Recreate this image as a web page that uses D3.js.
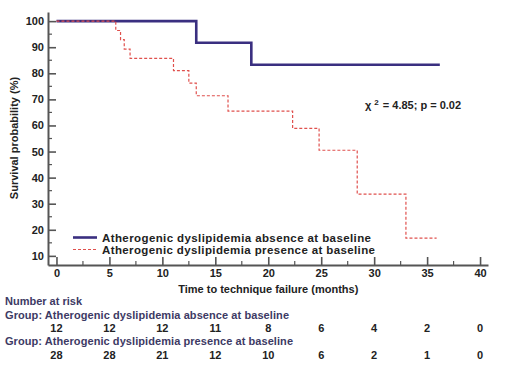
<!DOCTYPE html>
<html>
<head>
<meta charset="utf-8">
<script src="https://cdn.jsdelivr.net/npm/d3@7"></script>
<style>
  body { margin: 0; background: #fff; }
  svg text { font-family: "Liberation Sans", Arial, sans-serif; font-weight: bold; }
</style>
</head>
<body>
<svg id="chart" width="505" height="375"></svg>
<script>
// Kaplan-Meier steps
const absenceTimes = [0, 13.2, 18.4, 36.2];
const absenceSurv  = [100, 91.7, 83.3, 83.3];
const presenceTimes = [0, 5.6, 6.05, 6.4, 6.95, 11.05, 12.5, 13.2, 16.2, 22.3, 24.8, 28.4, 33.0, 35.9];
const presenceSurv  = [100, 96.4, 92.9, 89.3, 85.7, 81.0, 76.2, 71.4, 65.5, 58.9, 50.5, 33.7, 16.8, 16.8];

const xTicks = [0, 5, 10, 15, 20, 25, 30, 35, 40];
const yTicks = [10, 20, 30, 40, 50, 60, 70, 80, 90, 100];
const riskAbsence  = [12, 12, 12, 11, 8, 6, 4, 2, 0];
const riskPresence = [28, 28, 21, 12, 10, 6, 2, 1, 0];

const legendLabels = ["Atherogenic dyslipidemia absence at baseline",
                      "Atherogenic dyslipidemia presence at baseline"];

const blue = "#3a2f80", red = "#e0504d", axisCol = "#555";

const svg = d3.select("#chart");

const x = d3.scaleLinear().domain([-0.8, 40.75]).range([48, 488]);
const y = d3.scaleLinear().domain([6.5, 103.5]).range([265, 12]);

// minor ticks first
svg.append("g").selectAll("line")
  .data(d3.range(2.5, 40, 5))
  .enter().append("line")
    .attr("x1", d => x(d)).attr("x2", d => x(d))
    .attr("y1", 265).attr("y2", 261)
    .attr("stroke", axisCol).attr("stroke-width", 1.2);

svg.append("g").selectAll("line")
  .data(d3.range(15, 100, 10))
  .enter().append("line")
    .attr("y1", d => y(d)).attr("y2", d => y(d))
    .attr("x1", 48).attr("x2", 52)
    .attr("stroke", axisCol).attr("stroke-width", 1.2);

const xAxis = svg.append("g")
  .attr("transform", "translate(0,265)")
  .call(d3.axisBottom(x).tickValues(xTicks).tickSizeInner(-8).tickSizeOuter(0).tickPadding(4));

const yAxis = svg.append("g")
  .attr("transform", "translate(48,0)")
  .call(d3.axisLeft(y).tickValues(yTicks).tickSizeInner(-8).tickSizeOuter(0).tickPadding(4));

[xAxis, yAxis].forEach(g => {
  g.select(".domain").attr("stroke", axisCol).attr("stroke-width", 2);
  g.selectAll(".tick line").attr("stroke", axisCol).attr("stroke-width", 1.6);
  g.selectAll(".tick text").attr("fill", "#222").attr("font-size", 11);
});

// axis titles
svg.append("text")
  .attr("x", x(20)).attr("y", 293)
  .attr("text-anchor", "middle").attr("font-size", 11).attr("fill", "#222")
  .text("Time to technique failure (months)");

svg.append("text")
  .attr("transform", "translate(18,138) rotate(-90)")
  .attr("text-anchor", "middle").attr("font-size", 11).attr("fill", "#222")
  .attr("font-weight", "normal")
  .text("Survival probability (%)");

// curves
const step = d3.line()
  .x(d => x(d[0])).y(d => y(d[1]))
  .curve(d3.curveStepAfter);

svg.append("path")
  .attr("d", step(d3.zip(absenceTimes, absenceSurv)))
  .attr("fill", "none").attr("stroke", blue).attr("stroke-width", 2.6);

svg.append("path")
  .attr("d", step(d3.zip(presenceTimes, presenceSurv)))
  .attr("fill", "none").attr("stroke", red).attr("stroke-width", 1.2)
  .attr("stroke-dasharray", "3,2");

// test statistic
const chi = svg.append("text")
  .attr("x", 365).attr("y", 109)
  .attr("font-size", 11).attr("fill", "#222");
chi.append("tspan").text("\u03c7");
chi.append("tspan").attr("dy", -4).attr("font-size", 8).attr("dx", 3).text("2");
chi.append("tspan").attr("dy", 4).attr("dx", 4).text("= 4.85; p = 0.02");

// legend
const leg = svg.append("g");
const legStyles = [{c: blue, w: 2.6, dash: null}, {c: red, w: 1.2, dash: "3,2"}];
legendLabels.forEach((lab, i) => {
  const ly = 237.5 + i * 12;
  leg.append("line")
    .attr("x1", 73).attr("x2", 97).attr("y1", ly).attr("y2", ly)
    .attr("stroke", legStyles[i].c).attr("stroke-width", legStyles[i].w)
    .attr("stroke-dasharray", legStyles[i].dash);
  leg.append("text")
    .attr("x", 102).attr("y", ly + 4)
    .attr("font-size", 11.5).attr("fill", "#222")
    .attr("textLength", 269 + i * 4).attr("lengthAdjust", "spacing")
    .text(lab);
});

// number at risk table
const tableCol = "#3d3a64";
svg.append("text").attr("x", 5).attr("y", 305)
  .attr("font-size", 11).attr("fill", tableCol).text("Number at risk");
svg.append("text").attr("x", 5).attr("y", 318.5)
  .attr("font-size", 11).attr("fill", tableCol)
  .attr("textLength", 284).attr("lengthAdjust", "spacing")
  .text("Group: " + legendLabels[0]);
svg.append("text").attr("x", 5).attr("y", 345)
  .attr("font-size", 11).attr("fill", tableCol)
  .attr("textLength", 288).attr("lengthAdjust", "spacing")
  .text("Group: " + legendLabels[1]);

[[riskAbsence, 332], [riskPresence, 358.5]].forEach(([vals, ry]) => {
  svg.append("g").selectAll("text")
    .data(vals)
    .enter().append("text")
      .attr("x", (d, i) => x(xTicks[i]))
      .attr("y", ry)
      .attr("text-anchor", "middle").attr("font-size", 11).attr("fill", "#222")
      .text(d => d);
});
</script>
</body>
</html>
